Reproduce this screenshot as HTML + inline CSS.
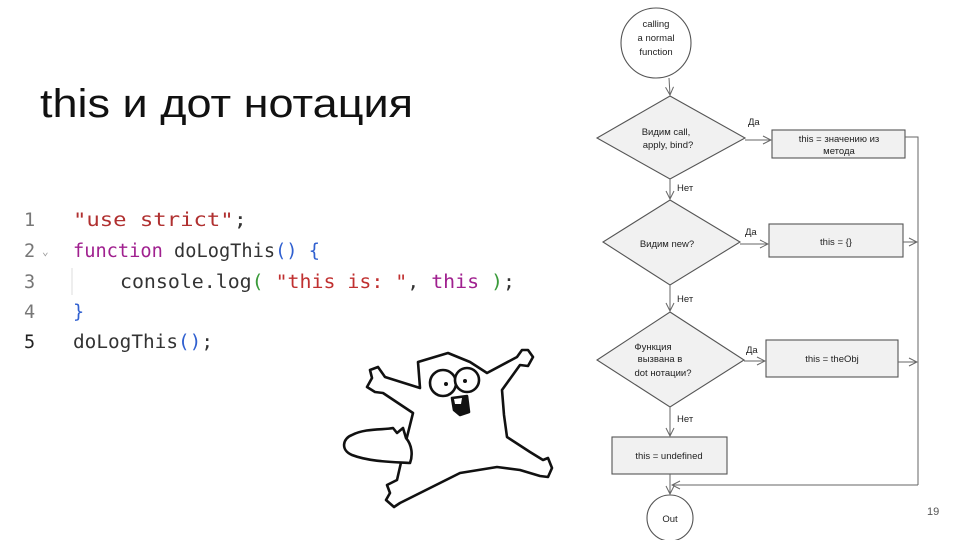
<!DOCTYPE html>
<html><head><meta charset="utf-8"><style>
html,body{margin:0;padding:0;background:#fff;}
body{width:960px;height:540px;overflow:hidden;position:relative;}
svg{position:absolute;left:0;top:0;}
.code{font-family:"DejaVu Sans Mono","Liberation Mono",monospace;font-size:18.5px;}
.hw{font-family:"Liberation Sans","DejaVu Sans",sans-serif;font-size:9.5px;fill:#222;}
</style></head><body>
<svg width="960" height="540" viewBox="0 0 960 540" xmlns="http://www.w3.org/2000/svg">
<defs><marker id="ah" markerWidth="10" markerHeight="10" refX="9" refY="5" orient="auto" markerUnits="userSpaceOnUse"><path d="M1,1 L9,5 L1,9" fill="none" stroke="#666" stroke-width="1"/></marker></defs>
<text x="40" y="117" font-family="Liberation Sans, DejaVu Sans, sans-serif" font-size="40" fill="#111" textLength="373" lengthAdjust="spacingAndGlyphs">this и дот нотация</text>
<g class="code">
<text x="24" y="226" fill="#777">1</text>
<text x="24" y="257" fill="#777">2</text>
<text x="24" y="288" fill="#777">3</text>
<text x="24" y="318" fill="#777">4</text>
<text x="24" y="348" fill="#222">5</text>
<text x="42" y="255" fill="#999" font-size="11">⌄</text>
<line x1="72" y1="268" x2="72" y2="295" stroke="#ddd"/>
<text x="73" y="226" textLength="174" lengthAdjust="spacingAndGlyphs"><tspan fill="#b03030">"use strict"</tspan><tspan fill="#333">;</tspan></text>
<text x="73" y="257" textLength="247" lengthAdjust="spacingAndGlyphs"><tspan fill="#a0208f">function</tspan><tspan fill="#333"> doLogThis</tspan><tspan fill="#3060d0">()</tspan><tspan fill="#333"> </tspan><tspan fill="#3060d0">{</tspan></text>
<text x="120" y="288" textLength="395" lengthAdjust="spacingAndGlyphs"><tspan fill="#333">console.log</tspan><tspan fill="#3a9a3a">(</tspan><tspan fill="#333"> </tspan><tspan fill="#c03030">"this is: "</tspan><tspan fill="#333">, </tspan><tspan fill="#a0208f">this</tspan><tspan fill="#333"> </tspan><tspan fill="#3a9a3a">)</tspan><tspan fill="#333">;</tspan></text>
<text x="73" y="318" fill="#3060d0">}</text>
<text x="73" y="348" textLength="140" lengthAdjust="spacingAndGlyphs"><tspan fill="#333">doLogThis</tspan><tspan fill="#3060d0">()</tspan><tspan fill="#333">;</tspan></text>
</g>
<g fill="none" stroke="#111" stroke-width="2.6" stroke-linejoin="round" stroke-linecap="round">
<path d="M418,362 L448,353 L470,362 L487,373 L517,357 L522,350 L528,350 L533,357 L528,366 L520,365 L502,390 L504,415 L507,437 L530,452 L543,460 L548,458 L552,468 L548,477 L540,476 L520,470 L497,467 L460,473 L430,488 L400,503 L394,507 L386,500 L390,493 L387,485 L397,480 L405,445 L413,413 L383,393 L375,392 L367,387 L372,378 L370,370 L378,367 L385,377 L420,388 Z" fill="#fff"/>
<path d="M410,463 C395,462 370,462 352,455 C340,450 343,438 352,435 C365,428 385,430 393,428 L397,433 L403,428 L406,438 C412,445 413,455 410,463 Z" fill="#fff"/>
<circle cx="443" cy="383" r="13" fill="#fff"/>
<circle cx="467" cy="380" r="12" fill="#fff"/>
<path d="M452,398 L467,396 L469,412 L460,415 L454,410 Z" fill="#111"/>
</g>
<circle cx="446" cy="384" r="2" fill="#111"/><circle cx="465" cy="381" r="2" fill="#111"/>
<path d="M454,399 L462,398 L461,404 L455,404 Z" fill="#fff"/>
<g stroke="#555" stroke-width="1.1" fill="#f1f1f1">
<circle cx="656" cy="43" r="35" fill="#fff"/>
<polygon points="670,96 745,138 670,179 597,138"/>
<rect x="772" y="130" width="133" height="28"/>
<polygon points="670,200 740,242 670,285 603,242"/>
<rect x="769" y="224" width="134" height="33"/>
<polygon points="670,312 744,360 670,407 597,360"/>
<rect x="766" y="340" width="132" height="37"/>
<rect x="612" y="437" width="115" height="37"/>
<circle cx="670" cy="518" r="23" fill="#fff"/>
</g>
<g stroke="#666" stroke-width="1" fill="none">
<line x1="669" y1="78" x2="670" y2="95" marker-end="url(#ah)"/>
<line x1="670" y1="179" x2="670" y2="199" marker-end="url(#ah)"/>
<line x1="670" y1="285" x2="670" y2="311" marker-end="url(#ah)"/>
<line x1="670" y1="407" x2="670" y2="436" marker-end="url(#ah)"/>
<line x1="670" y1="474" x2="670" y2="494" marker-end="url(#ah)"/>
<line x1="745" y1="140" x2="771" y2="140" marker-end="url(#ah)"/>
<line x1="740" y1="244" x2="768" y2="244" marker-end="url(#ah)"/>
<line x1="744" y1="361" x2="765" y2="361" marker-end="url(#ah)"/>
<polyline points="905,137 918,137 918,485"/>
<line x1="903" y1="242" x2="917" y2="242" marker-end="url(#ah)"/>
<line x1="898" y1="362" x2="917" y2="362" marker-end="url(#ah)"/>
<line x1="918" y1="485" x2="672" y2="485" marker-end="url(#ah)"/>
</g>
<g class="hw" text-anchor="middle">
<text x="656" y="27">calling</text>
<text x="656" y="41">a normal</text>
<text x="656" y="55">function</text>
<text x="666" y="135">Видим call,</text>
<text x="668" y="148">apply, bind?</text>
<text x="839" y="142">this = значению из</text>
<text x="839" y="154">метода</text>
<text x="667" y="247">Видим new?</text>
<text x="836" y="245">this = {}</text>
<text x="653" y="350">Функция</text>
<text x="660" y="362">вызвана в</text>
<text x="663" y="376">dot нотации?</text>
<text x="832" y="362">this = theObj</text>
<text x="669" y="459">this = undefined</text>
<text x="670" y="522">Out</text>
</g>
<g class="hw">
<text x="748" y="125">Да</text><text x="745" y="235">Да</text><text x="746" y="353">Да</text>
<text x="677" y="191">Нет</text><text x="677" y="302">Нет</text><text x="677" y="422">Нет</text>
</g>
<text x="927" y="515" font-family="Liberation Sans, sans-serif" font-size="11" fill="#555">19</text>
</svg>
</body></html>
